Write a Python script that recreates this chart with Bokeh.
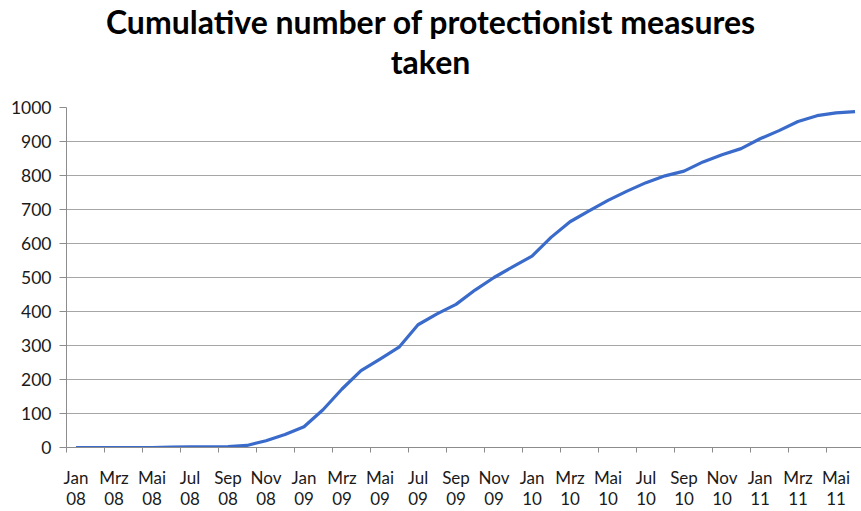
from bokeh.plotting import figure
from bokeh.models import Range1d, FixedTicker, ColumnDataSource, Div
from bokeh.layouts import column
from bokeh.embed import file_html
from bokeh.resources import INLINE

# ---- data ----
years = ["08", "09", "10", "11"]
month_names = ["Jan", "Feb", "Mrz", "Apr", "Mai", "Jun", "Jul", "Aug", "Sep", "Okt", "Nov", "Dez"]
months = [f"{m} {y}" for y in years for m in month_names][:42]  # Jan 08 .. Jun 11
values = [0, 0, 0, 0, 0, 1, 2, 2, 3, 6, 20, 38,
          61, 111, 172, 226, 260, 295, 361, 393, 421, 463, 500, 532,
          563, 618, 664, 696, 727, 754, 779, 799, 813, 840, 861, 879,
          908, 932, 959, 976, 984, 988]
y_ticks = list(range(0, 1001, 100))
title_lines = ["Cumulative number of protectionist measures", "taken"]

idx = list(range(len(months)))
label_idx = idx[::2][:21]
label_map = {i: months[i].replace(" ", "\n") for i in label_idx}

src = ColumnDataSource(dict(x=idx, y=values, month=months))

p = figure(width=861, height=414, output_backend="svg", toolbar_location=None,
           x_range=Range1d(-0.5, 41.34), y_range=Range1d(0, 1000),
           min_border_left=66, min_border_right=0, min_border_top=10, min_border_bottom=63,
           margin=0)
p.title.text = ""
p.outline_line_color = None
p.background_fill_color = "white"
p.border_fill_color = "white"

p.line("x", "y", source=src, line_color="#3A6BCB", line_width=3.2, line_join="round")

# y axis
yax = p.yaxis[0]
yax.ticker = FixedTicker(ticks=y_ticks, minor_ticks=[])
yax.axis_line_color = "#8c8c8c"
yax.major_tick_line_color = "#8c8c8c"
yax.major_tick_out = 7
yax.major_tick_in = 0
yax.minor_tick_line_color = None
yax.major_label_text_font = "Lato"
yax.major_label_text_font_size = "17.5px"
yax.major_label_text_color = "#1a1a1a"
yax.major_label_standoff = 8

# x axis
xax = p.xaxis[0]
xax.ticker = FixedTicker(ticks=label_idx, minor_ticks=[i - 0.5 for i in range(0, 43, 2)])
xax.major_label_overrides = label_map
xax.axis_line_color = "#8c8c8c"
xax.major_tick_line_color = None
xax.major_tick_out = 0
xax.major_tick_in = 0
xax.minor_tick_line_color = "#8c8c8c"
xax.minor_tick_out = 5
xax.minor_tick_in = 0
xax.major_label_text_font = "Lato"
xax.major_label_text_font_size = "17px"
xax.major_label_text_color = "#1a1a1a"
xax.major_label_text_line_height = 1.02
xax.major_label_standoff = 14

p.xgrid.grid_line_color = None
p.ygrid.ticker = FixedTicker(ticks=y_ticks)
p.ygrid.grid_line_color = "#a6a6a6"
p.ygrid.grid_line_width = 1

title_html = ('<div style="width:861px;text-align:center;font-family:Lato;font-weight:bold;'
              'font-size:32px;line-height:40px;color:#000;padding-top:2px;">'
              + "<br>".join(title_lines) + '</div>')
title = Div(text=title_html, width=861, height=97, margin=0)

layout = column(title, p, spacing=0, margin=0)
open("out.html", "w").write(file_html(layout, INLINE))
